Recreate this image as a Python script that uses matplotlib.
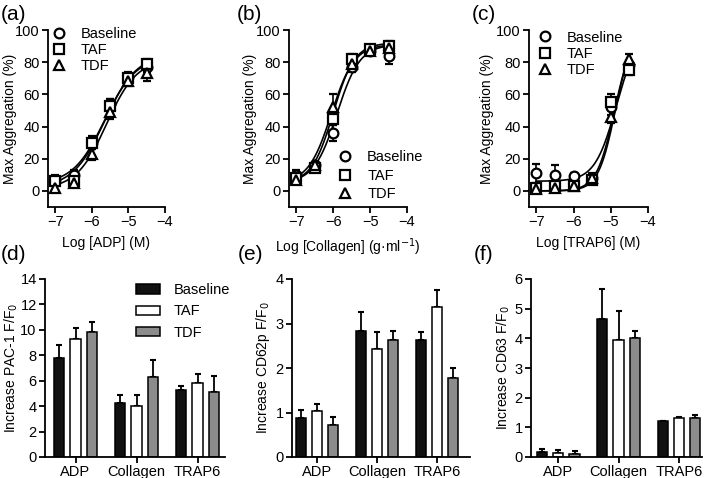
import numpy as np
import matplotlib
matplotlib.use("Agg")
import matplotlib.pyplot as plt
from matplotlib.patches import Patch
from matplotlib.lines import Line2D

plt.rcParams['font.family'] = ['Liberation Sans', 'DejaVu Sans']
plt.rcParams['font.size'] = 10

# ---- data: concentration-response curves ----
log_conc = [-7, -6.5, -6, -5.5, -5, -4.5]
groups = ["Baseline", "TAF", "TDF"]

adp_mean = {"Baseline": [7, 10, 30, 54, 71, 77],
            "TAF": [6, 6, 30, 53, 70, 79],
            "TDF": [2, 5, 23, 49, 68, 73]}
adp_err = {"Baseline": [3, 3, 4, 3, 3, 3],
           "TAF": [2, 2, 3, 4, 3, 3],
           "TDF": [2, 2, 4, 4, 3, 5]}

col_mean = {"Baseline": [10, 16, 36, 77, 87, 84],
            "TAF": [8, 14, 45, 82, 88, 90],
            "TDF": [7, 16, 52, 79, 87, 89]}
col_err = {"Baseline": [3, 2, 5, 3, 2, 5],
           "TAF": [2, 2, 4, 3, 2, 3],
           "TDF": [2, 2, 8, 3, 2, 3]}

trap_mean = {"Baseline": [11, 10, 9, 8, 52, 78],
             "TAF": [2, 3, 3, 7, 55, 75],
             "TDF": [1, 2, 3, 8, 46, 82]}
trap_err = {"Baseline": [6, 6, 2, 3, 5, 3],
            "TAF": [2, 2, 2, 3, 5, 3],
            "TDF": [1, 1, 1, 2, 4, 3]}

# fitted curve parameters: bottom, top, logEC50, hill
adp_fit = {"Baseline": [4, 84, -5.65, 1.0], "TAF": [2, 85, -5.65, 1.0], "TDF": [1, 82, -5.6, 1.05]}
col_fit = {"Baseline": [5, 91, -5.9, 1.4], "TAF": [5, 92, -6.0, 1.5], "TDF": [5, 91, -6.05, 1.4]}
trap_fit = {"Baseline": [6, 100, -4.85, 1.5], "TAF": [0, 100, -4.9, 1.8], "TDF": [0, 100, -4.88, 1.9]}

# ---- data: flow cytometry bars ----
agonists = ["ADP", "Collagen", "TRAP6"]
pac1_mean = {"Baseline": [7.8, 4.25, 5.25], "TAF": [9.25, 4.0, 5.8], "TDF": [9.8, 6.3, 5.1]}
pac1_err = {"Baseline": [1.0, 0.65, 0.35], "TAF": [0.9, 0.9, 0.7], "TDF": [0.8, 1.3, 1.3]}
cd62_mean = {"Baseline": [0.88, 2.83, 2.62], "TAF": [1.03, 2.42, 3.38], "TDF": [0.73, 2.62, 1.78]}
cd62_err = {"Baseline": [0.18, 0.43, 0.18], "TAF": [0.15, 0.38, 0.38], "TDF": [0.17, 0.22, 0.23]}
cd63_mean = {"Baseline": [0.18, 4.65, 1.2], "TAF": [0.15, 3.93, 1.32], "TDF": [0.1, 4.02, 1.32]}
cd63_err = {"Baseline": [0.08, 1.0, 0.03], "TAF": [0.07, 1.0, 0.03], "TDF": [0.1, 0.22, 0.08]}

markers = {"Baseline": "o", "TAF": "s", "TDF": "^"}
bar_colors = {"Baseline": "#111111", "TAF": "white", "TDF": "#8c8c8c"}

W, H = 709, 478
fig = plt.figure(figsize=(W / 100, H / 100), dpi=100)


def box(l, r, t, b):
    return [l / W, 1 - b / H, (r - l) / W, (b - t) / H]


def label(x, y, s):
    fig.text(x / W, 1 - y / H, s, fontsize=15, ha="left", va="center")


def style(ax):
    for s in ["top", "right"]:
        ax.spines[s].set_visible(False)
    for s in ["left", "bottom"]:
        ax.spines[s].set_linewidth(1.3)
    ax.tick_params(direction="out", length=4, width=1.3, labelsize=10.5, pad=2)


def ylabel_at(ax, text, xpix, l, r):
    ax.set_ylabel(text, fontsize=10)
    ax.yaxis.set_label_coords((xpix - l) / (r - l), 0.5)
    ax.yaxis.label.set_va("center")


def hill(x, p):
    bottom, top, ec50, h = p
    return bottom + (top - bottom) / (1 + 10 ** ((ec50 - x) * h))


def curve_panel(l, r, means, errs, fits, xlabel, ylab_x, leg_loc, anchor, spacing):
    ax = fig.add_axes(box(l, r, 30, 207))
    style(ax)
    xs = np.linspace(-7, -4.5, 200)
    for g in groups:
        ax.plot(xs, hill(xs, fits[g]), color="black", lw=1.2, zorder=2)
    for g in groups:
        ax.errorbar(log_conc, means[g], yerr=errs[g], fmt=markers[g], ms=7,
                    mfc="white", mec="black", mew=1.6, ecolor="black",
                    elinewidth=1.2, capsize=3, capthick=1.2, zorder=3)
    ax.set_xlim(-7.2, -4)
    ax.set_ylim(-10, 100)
    ax.set_xticks([-7, -6, -5, -4])
    ax.set_yticks([0, 20, 40, 60, 80, 100])
    ax.set_xlabel(xlabel, fontsize=10, labelpad=5)
    ylabel_at(ax, "Max Aggregation (%)", ylab_x, l, r)
    handles = [Line2D([], [], ls="none", marker=markers[g], ms=7, mfc="white",
                      mec="black", mew=1.6) for g in groups]
    ax.legend(handles, groups, loc=leg_loc, bbox_to_anchor=anchor, frameon=False,
              fontsize=10.5, handlelength=1.0, handletextpad=1.0,
              labelspacing=spacing, borderaxespad=0.0)
    return ax


def bar_panel(l, r, means, errs, ylim, yticks, ylabel, xlim, ylab_x, legend=False):
    ax = fig.add_axes(box(l, r, 279, 457))
    style(ax)
    x = np.arange(len(agonists))
    for i, g in enumerate(groups):
        pos = x + (i - 1) * 0.27
        ax.bar(pos, means[g], width=0.17, color=bar_colors[g], edgecolor="black",
               linewidth=1.1, zorder=2)
        ax.errorbar(pos, means[g], yerr=[[0] * 3, errs[g]], fmt="none",
                    ecolor="black", elinewidth=1.3, capsize=2.5, capthick=1.5, zorder=1)
    ax.set_xlim(*xlim)
    ax.set_ylim(*ylim)
    ax.set_yticks(yticks)
    ax.set_xticks(x)
    ax.set_xticklabels(agonists)
    ylabel_at(ax, ylabel, ylab_x, l, r)
    if legend:
        handles = [Patch(facecolor=bar_colors[g], edgecolor="black", linewidth=1.1)
                   for g in groups]
        ax.legend(handles, groups, loc="upper right", frameon=False, fontsize=10.5,
                  handlelength=1.7, handleheight=0.6, handletextpad=0.9,
                  labelspacing=0.5, borderaxespad=0.0, bbox_to_anchor=(1.06, 1.01))
    return ax


curve_panel(48, 165, adp_mean, adp_err, adp_fit, "Log [ADP] (M)", 10,
            "upper left", (-0.02, 1.05), 0.15)
curve_panel(289, 407, col_mean, col_err, col_fit,
            "Log [Collagen] (g\u00b7ml$^{-1}$)", 250, "lower right", (1.19, 0.0), 0.3)
curve_panel(529, 648, trap_mean, trap_err, trap_fit, "Log [TRAP6] (M)", 487,
            "upper left", (0.02, 1.03), 0.15)

bar_panel(45, 225, pac1_mean, pac1_err, (0, 14), range(0, 15, 2),
          "Increase PAC-1 F/F$_0$", (-0.5, 2.45), 11, legend=True)
bar_panel(292, 470, cd62_mean, cd62_err, (0, 4), range(0, 5),
          "Increase CD62p F/F$_0$", (-0.42, 2.55), 263)
bar_panel(531, 702, cd63_mean, cd63_err, (0, 6), range(0, 7),
          "Increase CD63 F/F$_0$", (-0.45, 2.38), 503)

label(1, 14, "(a)")
label(237, 14, "(b)")
label(472, 14, "(c)")
label(1, 254, "(d)")
label(238, 254, "(e)")
label(474, 254, "(f)")

fig.savefig("out.png", dpi=100, facecolor="white")
